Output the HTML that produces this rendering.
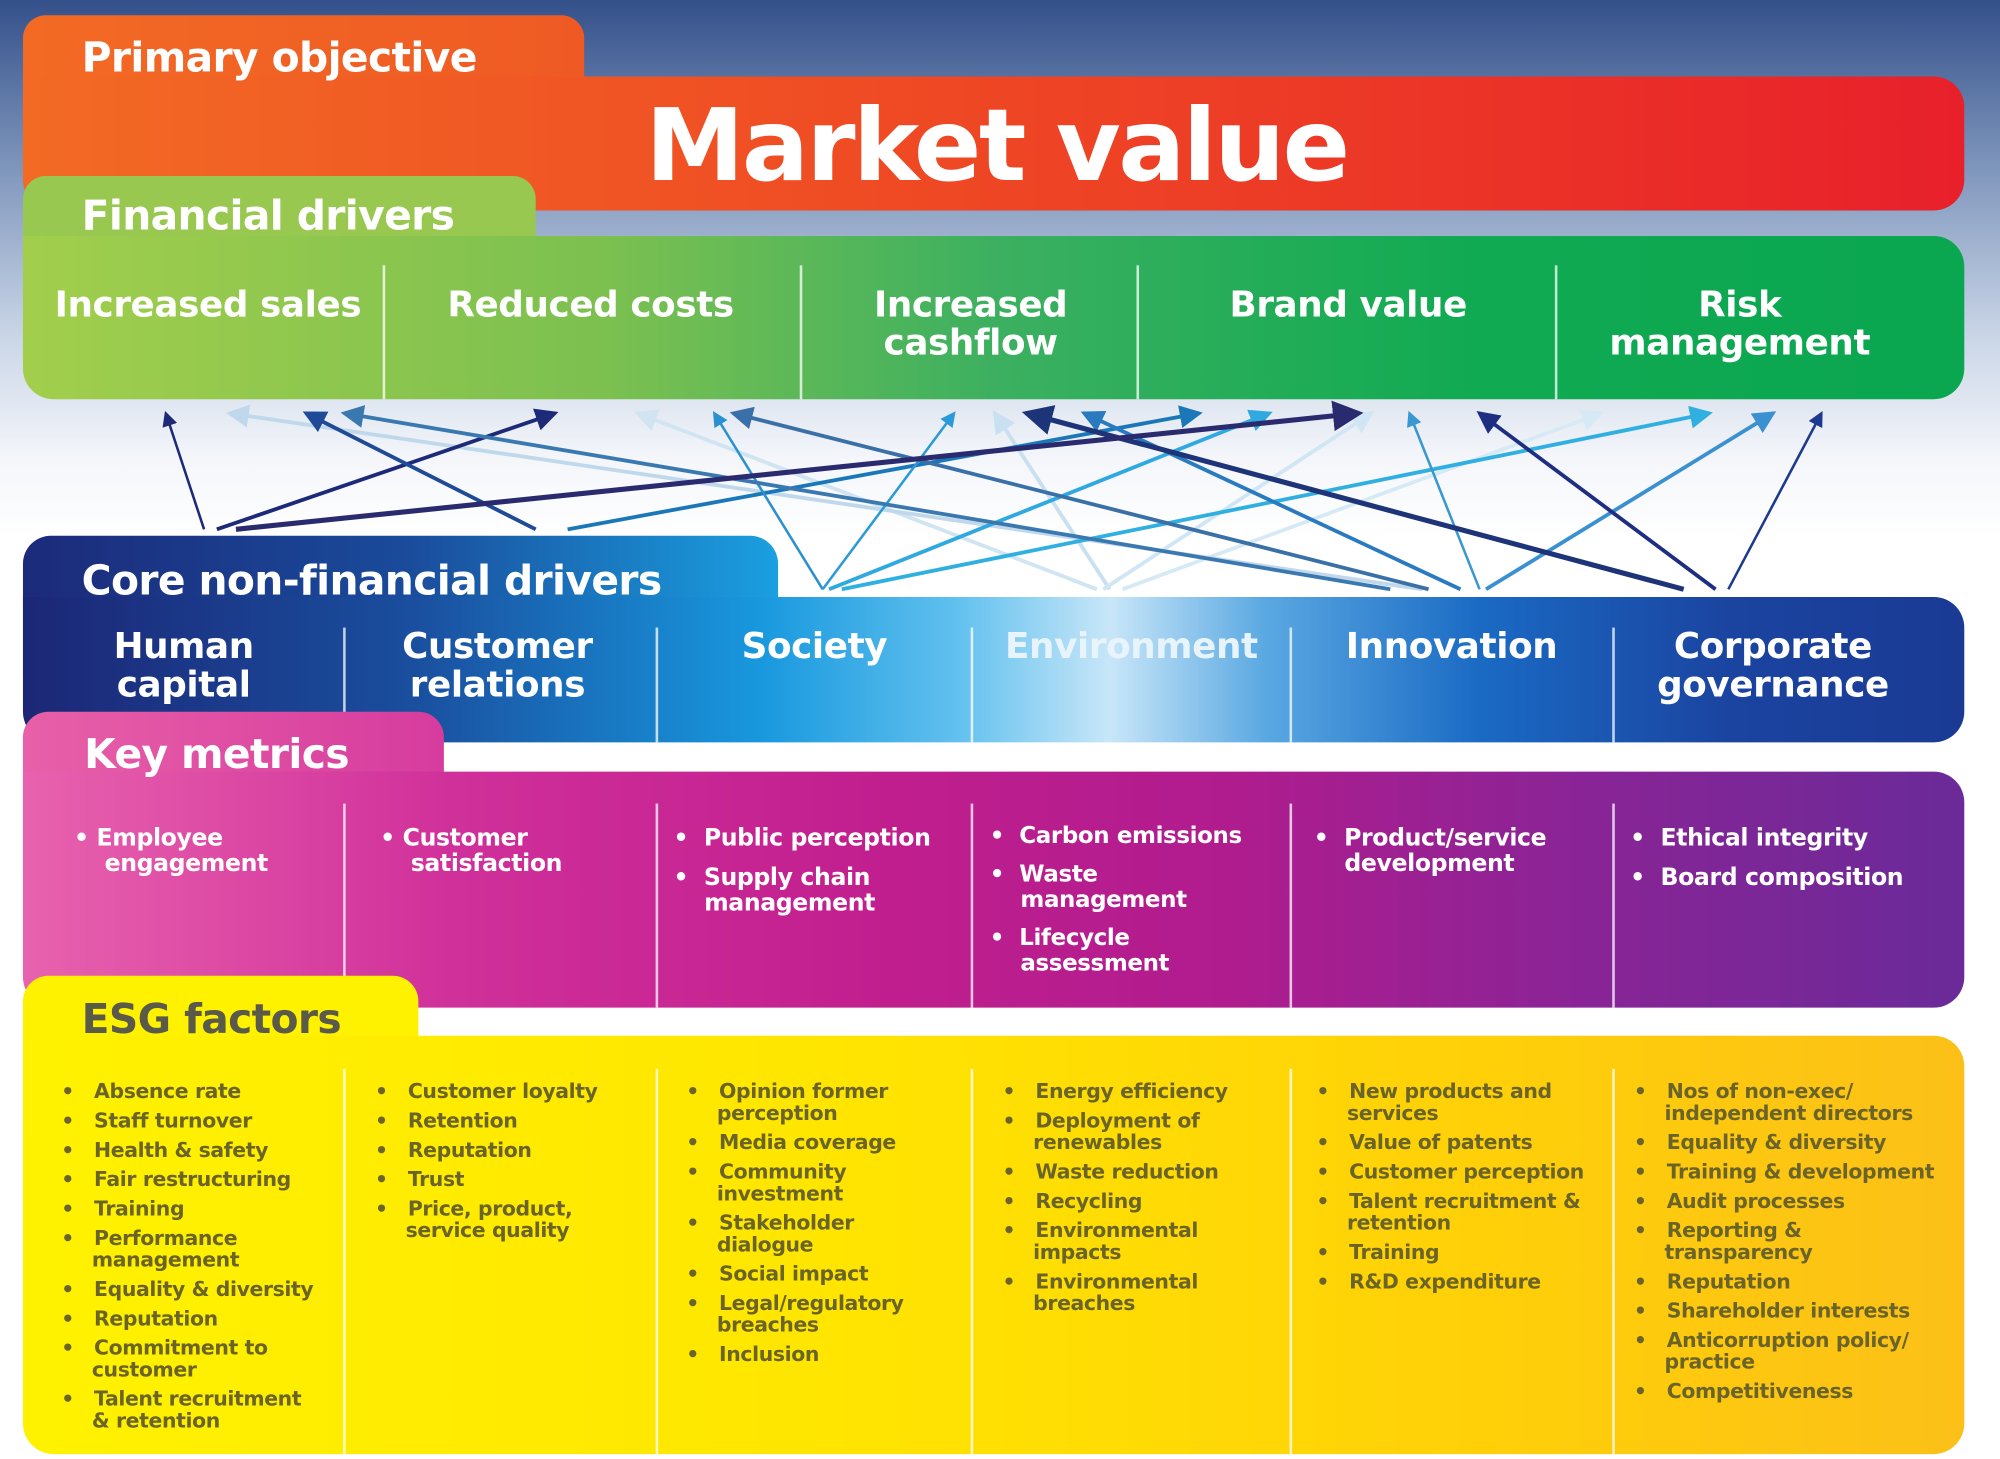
<!DOCTYPE html>
<html><head><meta charset="utf-8"><style>
*{margin:0;padding:0;box-sizing:border-box}
html,body{width:2000px;height:1459px;overflow:hidden;background:#fff}
#w{position:absolute;left:0;top:0;width:1568px;height:1144px;transform:scale(1.27551);transform-origin:0 0;
background:linear-gradient(180deg,#34508a 0px,#7890b8 120px,#c8d4e6 260px,#f4f6fa 360px,#fff 420px);font-family:"DejaVu Sans","Liberation Sans",sans-serif;font-weight:bold}
.a{position:absolute}
.t{color:#fff;position:absolute;white-space:nowrap}
.dv{position:absolute;width:2px;background:rgba(255,255,255,.75)}
.c{position:absolute;text-align:center;color:#fff;font-size:28px;line-height:30px;letter-spacing:-0.3px}
.km{position:absolute;color:#fff;font-size:18.5px;line-height:20px;letter-spacing:-0.3px}
.km p{margin-bottom:11px;padding-left:24px;text-indent:-24px}
.es{position:absolute;color:#6a6428;font-size:16px;line-height:17px;letter-spacing:-0.3px}
.es p{margin-bottom:6px;padding-left:24px;text-indent:-24px}
</style></head><body><div id="w">
<div class="a" style="left:18px;top:12px;width:440px;height:120px;border-radius:18px 18px 0 0;background:linear-gradient(90deg,#f26a24,#ef5a24)"></div>
<div class="a" style="left:18px;top:60px;width:1522px;height:105px;border-radius:0 24px 24px 24px;background:linear-gradient(90deg,#f26a24 0%,#ef4a24 45%,#e8202a 100%)"></div>
<div class="t" style="left:64px;top:26px;font-size:32px;letter-spacing:-0.5px">Primary objective</div>
<div class="t" style="left:506px;top:70px;font-size:78px;letter-spacing:-2px">Market value</div>
<div class="a" style="left:18px;top:138px;width:402px;height:100px;border-radius:18px 18px 0 0;background:#98c850"></div>
<div class="a" style="left:18px;top:185px;width:1522px;height:128px;border-radius:0 24px 24px 24px;background:linear-gradient(90deg,#a2ce4c 0%,#7cc050 30%,#3cb060 50%,#10aa52 75%,#0aa650 100%)"></div>
<div class="t" style="left:64px;top:150px;font-size:32px;letter-spacing:-0.5px">Financial drivers</div>
<div class="dv" style="left:300px;top:208px;height:105px"></div>
<div class="dv" style="left:627px;top:208px;height:105px"></div>
<div class="dv" style="left:891px;top:208px;height:105px"></div>
<div class="dv" style="left:1219px;top:208px;height:105px"></div>
<div class="c" style="left:22px;top:224px;width:282px">Increased sales</div>
<div class="c" style="left:302px;top:224px;width:322px">Reduced costs</div>
<div class="c" style="left:630px;top:224px;width:262px">Increased<br>cashflow</div>
<div class="c" style="left:893px;top:224px;width:328px">Brand value</div>
<div class="c" style="left:1221px;top:224px;width:286px">Risk<br>management</div>
<svg class="a" style="left:0;top:0" width="1568" height="1144" viewBox="0 0 1568 1144">
<defs>
<marker id="m" markerWidth="6" markerHeight="6" refX="5" refY="3" orient="auto" markerUnits="strokeWidth"><path d="M0,0L6,3L0,6z" fill="context-stroke"/></marker>
</defs>
<g fill="none" stroke-width="3" marker-end="url(#m)">
<line x1="880" y1="462" x2="1255" y2="324" stroke="#d6eaf6"/>
<line x1="860" y1="462" x2="500" y2="324" stroke="#d0e4f2"/>
<line x1="870" y1="462" x2="780" y2="324" stroke="#c8e0f0"/>
<line x1="1115" y1="462" x2="180" y2="324" stroke="#c0d8ec"/>
<line x1="865" y1="462" x2="1075" y2="324" stroke="#d0e6f4"/>
<line x1="160" y1="415" x2="130" y2="324" stroke="#1c2a78" stroke-width="2"/>
<line x1="170" y1="415" x2="435" y2="324" stroke="#1c2a78"/>
<line x1="420" y1="415" x2="240" y2="324" stroke="#1e4a98"/>
<line x1="445" y1="415" x2="940" y2="324" stroke="#1a78b8"/>
<line x1="645" y1="462" x2="560" y2="324" stroke="#2a90d0" stroke-width="2"/>
<line x1="645" y1="462" x2="748" y2="324" stroke="#2a9ad8" stroke-width="2"/>
<line x1="650" y1="462" x2="995" y2="324" stroke="#30a8e0"/>
<line x1="660" y1="462" x2="1340" y2="324" stroke="#30b0e0"/>
<line x1="1090" y1="462" x2="270" y2="324" stroke="#3a78b0"/>
<line x1="1120" y1="462" x2="575" y2="324" stroke="#3a70a8"/>
<line x1="1145" y1="462" x2="850" y2="324" stroke="#2a7ac0"/>
<line x1="1160" y1="462" x2="1105" y2="324" stroke="#3a98d0" stroke-width="2"/>
<line x1="1165" y1="462" x2="1390" y2="324" stroke="#3a90d0"/>
<line x1="1320" y1="462" x2="805" y2="324" stroke="#1e3478" stroke-width="4"/>
<line x1="1345" y1="462" x2="1160" y2="324" stroke="#1e2e80"/>
<line x1="1355" y1="462" x2="1428" y2="324" stroke="#1e3a90" stroke-width="2"/>
<line x1="185" y1="415" x2="1065" y2="324" stroke="#2a2a6e" stroke-width="4"/>
</g></svg>
<div class="a" style="left:18px;top:420px;width:592px;height:110px;border-radius:22px 22px 0 0;background:linear-gradient(90deg,#1c2a7a 0%,#1a4a9a 50%,#1aa0e0 100%)"></div>
<div class="a" style="left:18px;top:468px;width:1522px;height:114px;border-radius:0 24px 24px 24px;background:linear-gradient(90deg,#1c2676 0%,#1a4e9e 20%,#1898de 38%,#60c0ee 48%,#c8e6f8 56%,#5aa8e2 64%,#1a6ac4 75%,#1a44a0 88%,#1a3a94 100%)"></div>
<div class="t" style="left:64px;top:436px;font-size:32px;letter-spacing:-0.5px">Core non-financial drivers</div>
<div class="dv" style="left:269px;top:492px;height:90px"></div>
<div class="dv" style="left:514px;top:492px;height:90px"></div>
<div class="dv" style="left:761px;top:492px;height:90px"></div>
<div class="dv" style="left:1011px;top:492px;height:90px"></div>
<div class="dv" style="left:1264px;top:492px;height:90px"></div>
<div class="c" style="left:22px;top:492px;width:244px">Human<br>capital</div>
<div class="c" style="left:268px;top:492px;width:244px">Customer<br>relations</div>
<div class="c" style="left:516px;top:492px;width:245px">Society</div>
<div class="c" style="left:763px;top:492px;width:248px;color:#e8f4fc">Environment</div>
<div class="c" style="left:1013px;top:492px;width:250px">Innovation</div>
<div class="c" style="left:1266px;top:492px;width:248px">Corporate<br>governance</div>
<div class="a" style="left:18px;top:558px;width:330px;height:130px;border-radius:20px 20px 0 0;background:linear-gradient(90deg,#e860a8,#d63c9e)"></div>
<div class="a" style="left:18px;top:605px;width:1522px;height:185px;border-radius:0 24px 24px 24px;background:linear-gradient(90deg,#e862ae 0%,#d0309a 22%,#c01e8e 45%,#b01c8e 62%,#8a2496 80%,#6a2a98 100%)"></div>
<div class="t" style="left:66px;top:572px;font-size:32px;letter-spacing:-0.5px">Key metrics</div>
<div class="dv" style="left:269px;top:630px;height:160px"></div>
<div class="dv" style="left:514px;top:630px;height:160px"></div>
<div class="dv" style="left:761px;top:630px;height:160px"></div>
<div class="dv" style="left:1011px;top:630px;height:160px"></div>
<div class="dv" style="left:1264px;top:630px;height:160px"></div>
<div class="km" style="left:58px;top:648px;width:180px"><p>• Employee engagement</p></div>
<div class="km" style="left:298px;top:648px;width:180px"><p>• Customer satisfaction</p></div>
<div class="km" style="left:528px;top:648px;width:232px"><p>•&nbsp;&nbsp;Public perception</p><p>•&nbsp;&nbsp;Supply chain management</p></div>
<div class="km" style="left:776px;top:646px;width:236px;font-size:18px"><p style="margin-bottom:10px">•&nbsp;&nbsp;Carbon emissions</p><p style="margin-bottom:10px">•&nbsp;&nbsp;Waste<br>management</p><p>•&nbsp;&nbsp;Lifecycle<br>assessment</p></div>
<div class="km" style="left:1030px;top:648px;width:210px"><p>•&nbsp;&nbsp;Product/service development</p></div>
<div class="km" style="left:1278px;top:648px;width:250px"><p>•&nbsp;&nbsp;Ethical integrity</p><p>•&nbsp;&nbsp;Board composition</p></div>
<div class="a" style="left:18px;top:765px;width:310px;height:130px;border-radius:20px 20px 0 0;background:#fff200"></div>
<div class="a" style="left:18px;top:812px;width:1522px;height:328px;border-radius:0 24px 24px 24px;background:linear-gradient(90deg,#fff200 0%,#ffe600 40%,#ffd008 75%,#fcc018 100%)"></div>
<div class="t" style="left:64px;top:780px;font-size:32px;color:#5a5a4a;letter-spacing:-0.5px">ESG factors</div>
<div class="dv" style="left:269px;top:838px;height:302px"></div>
<div class="dv" style="left:514px;top:838px;height:302px"></div>
<div class="dv" style="left:761px;top:838px;height:302px"></div>
<div class="dv" style="left:1011px;top:838px;height:302px"></div>
<div class="dv" style="left:1264px;top:838px;height:302px"></div>
<div class="es" style="left:48px;top:847px;width:212px"><p>•&nbsp;&nbsp;&nbsp;Absence rate</p><p>•&nbsp;&nbsp;&nbsp;Staff turnover</p><p>•&nbsp;&nbsp;&nbsp;Health &amp; safety</p><p>•&nbsp;&nbsp;&nbsp;Fair restructuring</p><p>•&nbsp;&nbsp;&nbsp;Training</p><p>•&nbsp;&nbsp;&nbsp;Performance management</p><p>•&nbsp;&nbsp;&nbsp;Equality &amp; diversity</p><p>•&nbsp;&nbsp;&nbsp;Reputation</p><p>•&nbsp;&nbsp;&nbsp;Commitment to customer</p><p>•&nbsp;&nbsp;&nbsp;Talent recruitment<br>&amp; retention</p></div>
<div class="es" style="left:294px;top:847px;width:200px"><p>•&nbsp;&nbsp;&nbsp;Customer loyalty</p><p>•&nbsp;&nbsp;&nbsp;Retention</p><p>•&nbsp;&nbsp;&nbsp;Reputation</p><p>•&nbsp;&nbsp;&nbsp;Trust</p><p>•&nbsp;&nbsp;&nbsp;Price, product, service quality</p></div>
<div class="es" style="left:538px;top:847px;width:190px"><p>•&nbsp;&nbsp;&nbsp;Opinion former perception</p><p>•&nbsp;&nbsp;&nbsp;Media coverage</p><p>•&nbsp;&nbsp;&nbsp;Community investment</p><p>•&nbsp;&nbsp;&nbsp;Stakeholder dialogue</p><p>•&nbsp;&nbsp;&nbsp;Social impact</p><p>•&nbsp;&nbsp;&nbsp;Legal/regulatory breaches</p><p>•&nbsp;&nbsp;&nbsp;Inclusion</p></div>
<div class="es" style="left:786px;top:847px;width:190px"><p>•&nbsp;&nbsp;&nbsp;Energy efficiency</p><p>•&nbsp;&nbsp;&nbsp;Deployment of renewables</p><p>•&nbsp;&nbsp;&nbsp;Waste reduction</p><p>•&nbsp;&nbsp;&nbsp;Recycling</p><p>•&nbsp;&nbsp;&nbsp;Environmental impacts</p><p>•&nbsp;&nbsp;&nbsp;Environmental breaches</p></div>
<div class="es" style="left:1032px;top:847px;width:222px"><p>•&nbsp;&nbsp;&nbsp;New products and services</p><p>•&nbsp;&nbsp;&nbsp;Value of patents</p><p>•&nbsp;&nbsp;&nbsp;Customer perception</p><p>•&nbsp;&nbsp;&nbsp;Talent recruitment &amp; retention</p><p>•&nbsp;&nbsp;&nbsp;Training</p><p>•&nbsp;&nbsp;&nbsp;R&amp;D expenditure</p></div>
<div class="es" style="left:1281px;top:847px;width:248px"><p>•&nbsp;&nbsp;&nbsp;Nos of non-exec/ independent directors</p><p>•&nbsp;&nbsp;&nbsp;Equality &amp; diversity</p><p>•&nbsp;&nbsp;&nbsp;Training &amp; development</p><p>•&nbsp;&nbsp;&nbsp;Audit processes</p><p>•&nbsp;&nbsp;&nbsp;Reporting &amp; transparency</p><p>•&nbsp;&nbsp;&nbsp;Reputation</p><p>•&nbsp;&nbsp;&nbsp;Shareholder interests</p><p>•&nbsp;&nbsp;&nbsp;Anticorruption policy/ practice</p><p>•&nbsp;&nbsp;&nbsp;Competitiveness</p></div>
</div></body></html>
